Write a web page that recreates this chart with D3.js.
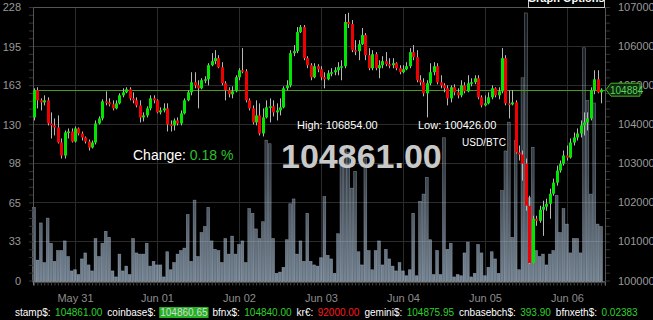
<!DOCTYPE html>
<html>
<head>
<meta charset="utf-8">
<title>USD/BTC</title>
<script src="https://d3js.org/d3.v7.min.js"></script>
<style>
body { margin:0; background:#000; overflow:hidden; }
svg { display:block; font-family: Arial, "Liberation Sans", sans-serif; }
</style>
</head>
<body>
<svg width="653" height="320"></svg>
<script>
// hourly candles, first one is 30 May 12:00 UTC
var startTime = Date.UTC(2025, 4, 30, 12);
var firstOpen = 104174;

var closes = [
 104868,104611,104559,104611,104020,103969,103917,103532,103198,103789,
 103814,103558,103892,103763,103660,103558,103403,103532,104020,104148,
 104585,104559,104508,104405,104534,104739,104816,104893,104662,104611,
 104482,104174,104225,104405,104662,104611,104303,104354,104405,103994,
 103969,104097,104020,104277,104611,104816,105073,104996,104919,105125,
 105150,105510,105613,105690,105459,105048,104868,104765,104842,105202,
 105381,105356,104611,104405,104046,104225,103763,104174,104431,104457,
 104303,104354,104431,104919,104996,105818,105870,106358,106486,105690,
 105510,105202,105484,105407,105202,105150,105304,105330,105381,105459,
 105484,106615,106563,105895,105870,106049,106281,105767,105433,105793,
 105433,105510,105613,105536,105510,105561,105433,105330,105407,105484,
 105844,105716,105125,105073,104791,105048,105330,105484,105073,104996,
 104919,104662,104945,104816,104739,104996,104842,105048,105073,105176,
 104688,104482,104534,104688,104919,104739,104842,105690,104534,104508,
 104559,103275,103224,102992,101913,100449,101580,101528,101811,101888,
 101965,102222,102504,102813,102992,103198,103147,103532,103660,103763,
 103969,104046,104148,104868,105150,104816,104884];

var highs = [
 104919,104945,104662,104739,104688,104303,104148,104225,103635,103840,
 103892,103892,103943,103917,103814,103686,103609,103583,104097,104200,
 104637,104842,104662,104611,104611,104791,104919,104945,104945,104816,
 104688,104611,104303,104457,104739,104739,104637,104431,104534,104534,
 104097,104148,104174,104354,104662,104868,105330,105330,105125,105176,
 105227,105561,105818,105895,105767,105587,105099,104945,104970,105253,
 105433,105947,105407,104662,104482,104611,104534,104405,104611,104662,
 104611,104534,104662,104970,105125,105895,106024,106486,106538,106538,
 105741,105561,105561,105536,105484,105330,105381,105433,105459,105587,
 105638,106820,106854,106666,106152,106152,106461,106332,105947,105895,
 105844,105638,105741,105844,105690,105690,105587,105510,105510,105587,
 105947,106024,105895,105253,105176,105125,105561,105587,105561,105253,
 105048,104996,104996,105022,104919,105125,105073,105253,105176,105253,
 105253,104739,104739,104816,104996,104945,104945,105947,105767,104868,
 104868,104611,103455,103326,103121,102170,101657,101657,101913,102042,
 102093,102350,102607,102941,103070,103326,103455,103635,103789,103892,
 104097,104303,104303,104945,105381,105381,104919];

var lows = [
 104097,104405,104354,104482,103969,103635,103712,103506,103121,103121,
 103635,103532,103532,103712,103583,103506,103326,103378,103481,103994,
 104097,104482,104457,104354,104380,104508,104688,104791,104611,104534,
 104431,104046,104071,104174,104354,104534,104277,104251,104303,103814,
 103814,103840,103969,103969,104251,104585,104739,104919,104405,104893,
 105048,104996,105484,105536,105433,104996,104611,104688,104662,104816,
 105125,105304,104559,104354,103994,103969,103712,103686,104148,104046,
 104200,104097,104225,104405,104868,104945,105741,105818,106332,105638,
 105433,105125,105176,105330,105125,104919,105125,105227,105253,105253,
 105125,105433,106461,105844,105767,105638,106024,105638,105381,105381,
 105381,105176,105433,105484,105433,105433,105381,105279,105304,105381,
 105433,105638,105073,104996,104714,104174,104996,105253,105022,104919,
 104816,104482,104559,104739,104662,104688,104791,104816,104970,105022,
 104637,104431,104457,104508,104637,104688,104637,104791,104482,104148,
 104482,103249,103070,102556,101785,100426,100440,101400,101477,101143,
 101785,101580,102170,102427,102761,102941,103070,103121,103455,103583,
 103660,103712,103840,104097,104765,104791,104534];

var volumes = [
 61,17,48,15,52,31,16,25,25,33,20,8,9,5,18,23,13,8,35,20,
 31,41,36,8,3,22,8,12,5,35,23,22,22,31,12,16,13,13,3,24,
 9,15,22,25,27,55,16,67,20,40,45,61,33,26,25,15,
 35,22,37,22,30,33,15,60,56,43,35,49,117,114,35,6,7,11,34,64,
 68,22,33,16,56,16,13,12,19,70,21,18,6,39,102,111,107,77,91,24,
 13,102,25,9,25,33,13,26,18,12,8,15,8,4,9,
 56,4,66,72,86,34,5,25,5,119,26,31,3,5,4,23,32,3,6,30,
 23,4,11,24,18,6,75,108,132,36,117,9,169,223,69,111,25,20,22,13,
 22,25,71,40,60,47,23,35,35,23,194,150,72,148,47,45];

var priceTicks = [100000,101000,102000,103000,104000,105000,106000,107000];
var volTicks = [0,33,65,98,130,163,195,228];
var lastPrice = 104884;

var tickerNames  = ["stamp$:", "coinbase$:", "bfnx$:", "kr\u20ac:", "gemini$:", "cnbasebch$:", "bfnxeth$:"];
var tickerValues = ["104861.00", "104860.65", "104840.00", "92000.00", "104875.95", "393.90", "0.02383"];
var tickerMoves  = ["up", "flash", "up", "down", "up", "up", "up"];

var data = closes.map(function(c, i) {
  return {
    t: new Date(startTime + i * 3600e3),
    o: i == 0 ? firstOpen : closes[i-1],
    h: highs[i], l: lows[i], c: c, v: volumes[i]
  };
});

var svg = d3.select("svg");
var pLeft = 33, pRight = 605, pTop = 7, pBottom = 280.5;
var hourPx = 3.416;

var x = d3.scaleUtc()
  .domain([new Date(startTime - 3600e3 / hourPx), new Date(startTime + (pRight - 34) / hourPx * 3600e3)])
  .range([pLeft, pRight]);
var y = d3.scaleLinear().domain([100000, 107000]).range([pBottom, pTop]);
var yv = d3.scaleLinear().domain([0, 228]).range([pBottom, pTop]);

svg.append("rect").attr("width", 653).attr("height", 320).attr("fill", "#000");

// volume gradient, dark at the top and pale at the base
var grad = svg.append("defs").append("linearGradient")
  .attr("id", "vg").attr("gradientUnits", "userSpaceOnUse")
  .attr("x1", 0).attr("x2", 0).attr("y1", pTop).attr("y2", pBottom);
grad.append("stop").attr("offset", 0).attr("stop-color", "#9fb5ca").attr("stop-opacity", 0.12);
grad.append("stop").attr("offset", 0.6).attr("stop-color", "#9fb5ca").attr("stop-opacity", 0.35);
grad.append("stop").attr("offset", 1).attr("stop-color", "#a9bfd4").attr("stop-opacity", 0.7);

// grid
var days = d3.utcDay.range(x.domain()[0], x.domain()[1]).filter(function(d) { return x(d) > pLeft + 2; });
svg.append("g").selectAll("line").data(priceTicks).join("line")
  .attr("x1", pLeft).attr("x2", pRight)
  .attr("y1", function(d) { return Math.round(y(d)) + 0.5; })
  .attr("y2", function(d) { return Math.round(y(d)) + 0.5; })
  .attr("stroke", "#2b2b2b");
svg.append("g").selectAll("line").data(days).join("line")
  .attr("x1", function(d) { return Math.round(x(d)) + 0.5; })
  .attr("x2", function(d) { return Math.round(x(d)) + 0.5; })
  .attr("y1", pTop).attr("y2", pBottom)
  .attr("stroke", "#2b2b2b");

// volume bars
svg.append("g").selectAll("rect").data(data).join("rect")
  .attr("x", function(d) { return x(d.t) - 1.4; })
  .attr("width", 2.8)
  .attr("y", function(d) { return yv(d.v); })
  .attr("height", function(d) { return pBottom + 1.5 - yv(d.v); })
  .attr("fill", "url(#vg)")
  .attr("stroke", "rgba(190,208,228,0.5)")
  .attr("stroke-width", 0.6);

// frame
svg.append("path")
  .attr("d", "M" + (pLeft + 0.5) + "," + (pBottom + 1) + "V" + (pTop + 0.5) + "H" + (pRight + 0.5) + "V" + (pBottom + 1))
  .attr("fill", "none").attr("stroke", "#555");

// axes
var minorY = d3.range(0, 36).map(function(i) { return 100000 + i * 200; });
svg.append("g").attr("transform", "translate(" + pLeft + ",0)")
  .call(d3.axisLeft(y).tickValues(minorY).tickSize(4).tickFormat(""))
  .call(function(g) { g.select(".domain").remove(); g.selectAll("line").attr("stroke", "#333"); });
svg.append("g").attr("transform", "translate(" + (pRight + 1) + ",0)")
  .call(d3.axisRight(y).tickValues(minorY).tickSize(4).tickFormat(""))
  .call(function(g) { g.select(".domain").remove(); g.selectAll("line").attr("stroke", "#333"); });

svg.append("g").attr("transform", "translate(" + pLeft + ",0)")
  .call(d3.axisLeft(yv).tickValues(volTicks).tickSize(0).tickPadding(12).tickFormat(d3.format("d")))
  .call(function(g) {
    g.select(".domain").remove();
    g.selectAll("text").attr("fill", "#999").attr("font-size", 11).attr("font-family", "Arial, 'Liberation Sans', sans-serif");
  });
svg.append("g").attr("transform", "translate(" + pRight + ",0)")
  .call(d3.axisRight(y).tickValues(priceTicks).tickSize(0).tickPadding(13).tickFormat(d3.format("d")))
  .call(function(g) {
    g.select(".domain").remove();
    g.selectAll("text").attr("fill", "#999").attr("font-size", 11).attr("font-family", "Arial, 'Liberation Sans', sans-serif");
  });

var minorX = d3.utcMinute.every(288).range(x.domain()[0], x.domain()[1]);
svg.append("g").attr("transform", "translate(0," + (pBottom + 1) + ")")
  .call(d3.axisBottom(x).tickValues(minorX).tickSize(4).tickFormat(""))
  .call(function(g) { g.select(".domain").attr("stroke", "#777"); g.selectAll("line").attr("stroke", "#444"); });
svg.append("g").attr("transform", "translate(0," + (pBottom + 1) + ")")
  .call(d3.axisBottom(x).tickValues(days).tickSize(0).tickPadding(13).tickFormat(d3.utcFormat("%b %d")))
  .call(function(g) {
    g.select(".domain").remove();
    g.selectAll("text").attr("fill", "#8c8c8c").attr("font-size", 11).attr("font-family", "Arial, 'Liberation Sans', sans-serif");
  });

// last price line
svg.append("line")
  .attr("x1", pLeft).attr("x2", pRight)
  .attr("y1", Math.round(y(lastPrice)) + 0.5).attr("y2", Math.round(y(lastPrice)) + 0.5)
  .attr("stroke", "#4d9a1c");

// candles
svg.append("g").selectAll("line").data(data).join("line")
  .attr("x1", function(d) { return Math.round(x(d.t)) + 0.5; })
  .attr("x2", function(d) { return Math.round(x(d.t)) + 0.5; })
  .attr("y1", function(d) { return y(d.h); })
  .attr("y2", function(d) { return y(d.l); })
  .attr("stroke", "#b8b8b8");
svg.append("g").selectAll("rect").data(data).join("rect")
  .attr("x", function(d) { return Math.round(x(d.t)) - 1; })
  .attr("width", 3)
  .attr("y", function(d) { return y(Math.max(d.o, d.c)); })
  .attr("height", function(d) { return Math.max(1.5, Math.abs(y(d.o) - y(d.c))); })
  .attr("fill", function(d) { return d.c >= d.o ? "#00e600" : "#f00000"; });

// price tag on right axis
var ty = y(lastPrice);
svg.append("path")
  .attr("d", "M" + (pRight + 1) + "," + ty + "L" + (pRight + 6) + "," + (ty - 6.5) + "H640V" + (ty + 6.5) + "H" + (pRight + 6) + "Z")
  .attr("fill", "#0c2a0c").attr("stroke", "#4caf2a");
svg.append("text").attr("x", 610).attr("y", ty + 4)
  .attr("font-size", 10).attr("fill", "#5fd35f").text(lastPrice);

// graph options box
svg.append("rect").attr("x", 528.5).attr("y", -12).attr("width", 76).attr("height", 19.5)
  .attr("fill", "#000").attr("stroke", "#ccc");
svg.append("text").attr("x", 566).attr("y", 2).attr("text-anchor", "middle")
  .attr("font-size", 11).attr("font-weight", "bold").attr("fill", "#fff").text("Graph Options");

// summary texts
svg.append("text").attr("x", 297).attr("y", 129).attr("font-size", 11).attr("fill", "#fff")
  .text("High: " + d3.format(".2f")(d3.max(highs)));
svg.append("text").attr("x", 418).attr("y", 129).attr("font-size", 11).attr("fill", "#fff")
  .text("Low: " + d3.format(".2f")(d3.min(lows)));
svg.append("text").attr("x", 462).attr("y", 146).attr("font-size", 10).attr("fill", "#fff").text("USD/BTC");
svg.append("text").attr("x", 281).attr("y", 168).attr("font-size", 34).attr("font-weight", "bold")
  .attr("fill", "#c8c8c8").text(tickerValues[0]);
var ch = svg.append("text").attr("x", 133).attr("y", 160).attr("font-size", 14).attr("fill", "#fff");
ch.append("tspan").text("Change: ");
ch.append("tspan").attr("fill", "#2ec02e").text("0.18 %");

// ticker line at the bottom
var tx = 15;
tickerNames.forEach(function(name, i) {
  var t1 = svg.append("text").attr("x", tx).attr("y", 316).attr("font-size", 10).attr("fill", "#fff").text(name);
  tx += t1.node().getComputedTextLength() + 4.5;
  var col = tickerMoves[i] == "down" ? "#ff1a1a" : "#2ed12e";
  var w = 0;
  if (tickerMoves[i] == "flash") {
    var bg = svg.append("rect").attr("x", tx - 1).attr("y", 307).attr("height", 11).attr("fill", "#22b322");
    var t2 = svg.append("text").attr("x", tx).attr("y", 316).attr("font-size", 10).attr("fill", "#d9d9d9").text(tickerValues[i]);
    w = t2.node().getComputedTextLength();
    bg.attr("width", w + 2);
  } else {
    var t3 = svg.append("text").attr("x", tx).attr("y", 316).attr("font-size", 10).attr("fill", col).text(tickerValues[i]);
    w = t3.node().getComputedTextLength();
  }
  tx += w + 5;
});
</script>
</body>
</html>
